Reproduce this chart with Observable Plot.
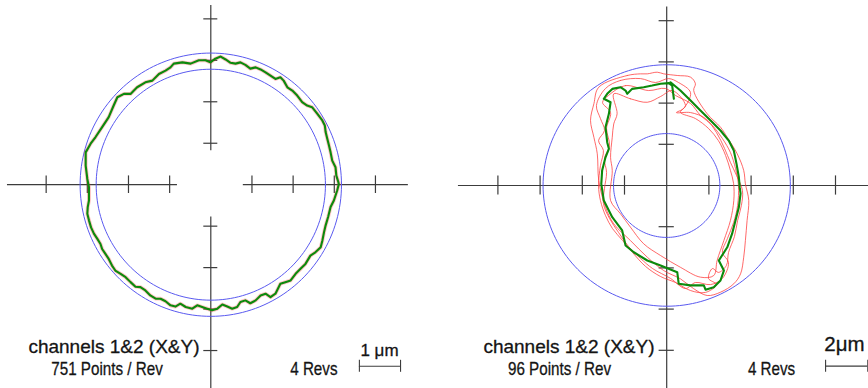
<!DOCTYPE html>
<html><head><meta charset="utf-8">
<script src="https://cdn.jsdelivr.net/npm/d3@7"></script>
<script src="https://cdn.jsdelivr.net/npm/@observablehq/plot@0.6"></script>
<style>
html,body{margin:0;padding:0;background:#fff;}
#wrap{display:flex;width:868px;height:388px;overflow:hidden;background:#fff;}
#wrap svg{display:block;flex:none;}
</style></head><body><div id="wrap"></div>
<script>
// ---------- data (µm) ----------
const leftTicks = [-4, -3, -2, -1, 1, 2, 3, 4];
const rightTicks = [-8, -6, -4, -2, 2, 4, 6, 8];
const leftCircleRadii = [3.175, 2.785];
const rightCircleRadii = [5.86, 2.52];

// channels 1&2, 751 points / rev (traced outline)
const leftTrace = [[-0.13,3.00],[-0.01,2.95],[0.11,3.04],[0.24,3.09],[0.36,3.02],[0.48,2.94],[0.60,2.92],[0.72,2.95],[0.84,2.89],[0.96,2.80],[1.09,2.83],[1.21,2.78],[1.33,2.71],[1.45,2.63],[1.57,2.55],[1.69,2.59],[1.77,2.51],[1.86,2.35],[1.98,2.27],[2.10,2.15],[2.22,1.99],[2.34,1.91],[2.46,1.87],[2.59,1.71],[2.71,1.55],[2.77,1.43],[2.79,1.27],[2.83,1.11],[2.87,0.95],[2.91,0.78],[2.95,0.58],[3.03,0.42],[3.05,0.22],[3.10,0.06],[3.11,0.01],[3.07,-0.14],[2.99,-0.38],[2.91,-0.54],[2.85,-0.78],[2.79,-0.98],[2.75,-1.15],[2.71,-1.35],[2.67,-1.51],[2.54,-1.63],[2.42,-1.71],[2.30,-1.91],[2.18,-2.03],[2.06,-2.15],[1.94,-2.31],[1.81,-2.35],[1.69,-2.39],[1.57,-2.63],[1.45,-2.71],[1.33,-2.63],[1.21,-2.67],[1.09,-2.79],[0.96,-2.86],[0.84,-2.79],[0.72,-2.83],[0.64,-2.95],[0.52,-2.99],[0.40,-2.94],[0.28,-2.89],[0.16,-2.99],[0.03,-3.03],[-0.09,-2.99],[-0.21,-2.95],[-0.33,-2.91],[-0.45,-2.99],[-0.61,-2.95],[-0.74,-2.87],[-0.86,-2.94],[-0.98,-2.91],[-1.10,-2.81],[-1.22,-2.75],[-1.34,-2.75],[-1.47,-2.67],[-1.59,-2.55],[-1.71,-2.47],[-1.83,-2.46],[-1.95,-2.35],[-2.07,-2.23],[-2.19,-2.15],[-2.32,-2.07],[-2.40,-1.95],[-2.48,-1.79],[-2.56,-1.67],[-2.64,-1.55],[-2.68,-1.43],[-2.76,-1.30],[-2.84,-1.18],[-2.91,-1.03],[-2.96,-0.86],[-3.00,-0.70],[-2.99,-0.54],[-2.96,-0.38],[-2.96,-0.22],[-2.96,-0.06],[-3.00,0.14],[-3.04,0.46],[-3.04,0.78],[-2.92,0.99],[-2.80,1.15],[-2.64,1.39],[-2.48,1.63],[-2.36,1.91],[-2.27,2.11],[-2.11,2.19],[-1.95,2.19],[-1.79,2.35],[-1.59,2.47],[-1.42,2.51],[-1.26,2.67],[-1.10,2.75],[-0.98,2.83],[-0.90,2.92],[-0.69,2.95],[-0.49,2.92],[-0.29,3.00]];

// channels 1&2, 96 points / rev: green trace (one rev)
const rightTrace = [[0.34,4.21],[0.26,4.85],[0.10,4.97],[-0.29,4.94],[-0.69,4.85],[-1.09,4.77],[-1.64,4.69],[-1.87,4.45],[-1.95,4.61],[-2.19,4.77],[-2.58,4.69],[-2.82,4.45],[-2.98,4.21],[-2.66,4.04],[-2.74,3.48],[-2.90,2.83],[-2.82,2.10],[-2.74,1.78],[-2.90,1.37],[-3.06,0.73],[-3.10,0.08],[-2.98,-0.73],[-2.58,-1.54],[-2.11,-2.18],[-1.95,-2.91],[-1.56,-3.24],[-0.92,-3.64],[-0.29,-3.88],[0.50,-4.21],[0.57,-4.77],[1.13,-4.85],[1.76,-4.85],[1.84,-5.06],[2.23,-4.94],[2.55,-4.61],[2.71,-4.13],[2.47,-3.64],[2.87,-3.00],[3.10,-2.34],[3.26,-1.70],[3.42,-1.05],[3.50,-0.40],[3.46,-0.08],[3.42,0.40],[3.31,1.05],[3.18,1.70],[2.94,2.18],[2.55,2.67],[2.08,3.16],[1.60,3.64],[1.13,4.13],[0.65,4.61],[0.18,5.01]];

// red traces, 4 revs
const rightRev1 = [[-3.22,4.77],[-1.87,5.34],[-1.24,5.42],[-0.92,5.42],[-0.45,5.50],[-0.14,5.42],[0.50,5.34],[1.13,5.26],[1.36,4.94],[1.28,4.61],[1.92,3.48],[2.55,2.83],[2.87,2.34],[3.34,1.54],[3.65,0.73],[3.73,0.08],[3.89,-0.73],[3.81,-1.70],[3.73,-2.67],[3.65,-3.48],[3.50,-4.29],[3.18,-4.77],[2.55,-5.18],[1.92,-5.34],[1.28,-5.01],[0.65,-4.53],[-0.14,-4.13],[-0.92,-3.48],[-1.72,-2.67],[-2.51,-1.86],[-2.90,-1.05],[-3.22,0.24],[-3.29,1.54],[-3.45,2.34],[-3.61,3.16],[-3.45,3.97]];
const rightRev2 = [[-2.51,4.45],[-1.72,4.21],[-0.92,4.04],[-0.29,4.32],[0.27,4.61],[0.89,3.88],[0.65,3.56],[1.36,3.25],[1.98,2.77],[2.45,2.18],[2.79,1.46],[3.02,0.73],[3.17,0.10],[3.18,-0.73],[3.02,-1.70],[2.71,-2.67],[2.39,-3.64],[2.23,-4.37],[1.60,-4.45],[0.65,-3.97],[-0.29,-3.40],[-1.09,-2.83],[-1.72,-2.02],[-2.19,-1.37],[-2.66,-0.73],[-2.58,0.73],[-2.66,1.37],[-2.58,2.34],[-2.51,2.99],[-2.35,3.48]];
const rightRev3 = [[-2.90,4.71],[-2.19,5.10],[-1.24,5.19],[-0.53,5.00],[0.09,5.19],[0.56,5.00],[1.13,4.51],[0.80,3.74],[0.46,3.54],[1.13,3.54],[1.84,3.25],[2.36,2.57],[2.74,1.80],[3.02,1.12],[3.31,0.49],[3.59,-0.24],[3.54,-0.97],[3.36,-1.70],[3.21,-2.48],[2.93,-3.25],[2.83,-3.88],[2.45,-4.22],[2.17,-4.03],[1.98,-4.51],[2.36,-4.81],[1.84,-5.19],[1.13,-5.10],[0.42,-4.71],[-0.29,-4.42],[-1.00,-3.93],[-1.62,-3.25],[-2.09,-2.67],[-2.57,-2.09],[-2.90,-1.46],[-3.14,-0.73],[-3.23,0.00],[-3.14,0.97],[-3.00,1.70],[-3.23,2.18],[-2.95,2.67],[-3.14,3.25],[-3.33,3.88]];
const rightRev4 = [[-2.76,4.37],[-1.95,4.85],[-0.86,4.61],[-0.06,4.71],[0.42,4.37],[1.13,3.98],[1.60,3.40],[2.17,2.91],[2.64,2.28],[3.02,1.60],[3.26,0.83],[3.40,0.00],[3.36,-0.97],[3.17,-1.80],[2.88,-2.57],[2.64,-3.25],[2.93,-3.74],[2.64,-4.51],[2.08,-4.81],[1.36,-4.71],[0.89,-5.00],[0.18,-4.51],[-0.67,-4.03],[-1.24,-3.54],[-1.81,-2.96],[-2.28,-2.28],[-2.71,-1.60],[-3.00,-0.87],[-2.95,-0.15],[-2.85,0.63],[-2.95,1.31],[-2.71,1.94],[-2.85,2.77],[-2.66,3.54],[-3.04,4.03]];

const leftLabels = {title: "channels 1&2 (X&Y)", points: "751 Points / Rev", revs: "4 Revs", bar: "1 μm"};
const rightLabels = {title: "channels 1&2 (X&Y)", points: "96 Points / Rev", revs: "4 Revs", bar: "2μm"};
const leftBarLength = 1;
const rightBarLength = 2;

// ---------- layout (pixels / styles) ----------
const FONT = "Liberation Sans, Arial, Helvetica, sans-serif";
const leftLayout = {
  cx: 210.3, cy: 184.2, kx: 41.16, ky: 41.46, ticks: leftTicks, tmax: 4,
  hSegs: [[-4.94, -0.81], [0.79, 4.80]], vSegs: [[4.32, 0.82], [-0.78, -5.0]],
  hTickPx: 8.8, vTickPx: 7, bar: {x: 3.61, y: -4.38, len: leftBarLength}, barTickPx: 6,
  title: {x: 199, y: 352}, points: {x: 106.5, y: 374.5}, revs: {x: 337, y: 374.5},
  barLabel: {x: 379, y: 355, size: 17}
};
const rightLayout = {
  cx: 232.2, cy: 185, kx: 21.1, ky: 20.6, ticks: rightTicks, tmax: 8,
  hSegs: [[-9.87, 9.9]], vSegs: [[8.66, -9.9]],
  hTickPx: 9.6, vTickPx: 7.6, bar: {x: 7.53, y: -8.77, len: rightBarLength}, barTickPx: 6,
  title: {x: 220, y: 352}, points: {x: 125, y: 374.5}, revs: {x: 360.7, y: 374.5},
  barLabel: {x: 410, y: 350, size: 20.5}
};

function circleOutline(r) {
  return d3.range(0, 361, 2).map(a => [r * Math.cos(a * Math.PI / 180), r * Math.sin(a * Math.PI / 180)]);
}

function label(text, pos, opts) {
  return Plot.text([text], Object.assign({
    text: d => d, frameAnchor: "top-left", dx: pos.x, dy: pos.y, lineAnchor: "bottom",
    fontFamily: FONT, fill: "#141414", stroke: "#141414", strokeWidth: 0.3
  }, opts));
}

function panel(L, labels, circles, greenTrace, redTraces, closedGreen) {
  const AX = "#3c3c3c";
  const th = L.hTickPx / L.ky, tv = L.vTickPx / L.kx, tb = L.barTickPx / L.ky;
  const marks = [
    Plot.ruleY(L.hSegs, {y: 0, x1: d => d[0], x2: d => d[1], stroke: AX, strokeWidth: 1.2}),
    Plot.ruleX(L.vSegs, {x: 0, y1: d => d[0], y2: d => d[1], stroke: AX, strokeWidth: 1.2}),
    Plot.ruleX(L.ticks, {x: d => d, y1: -th, y2: th, stroke: AX, strokeWidth: 1.2}),
    Plot.ruleY(L.ticks, {y: d => d, x1: -tv, x2: tv, stroke: AX, strokeWidth: 1.2}),
    ...circles.map(r => Plot.line(circleOutline(r), {x: d => d[0], y: d => d[1], stroke: "#5a5af0", strokeWidth: 1, curve: "linear-closed"})),
  ];
  if (redTraces) {
    redTraces.forEach(t => marks.push(Plot.line(t, {x: d => d[0], y: d => d[1], stroke: "#ff3a3a", strokeWidth: 0.9, strokeOpacity: 0.85, curve: "catmull-rom-closed"})));
  } else {
    marks.push(Plot.line(greenTrace, {x: d => d[0], y: d => d[1], stroke: "#ff3a3a", strokeWidth: 3.8, strokeOpacity: 0.3, curve: "linear-closed"}));
  }
  marks.push(Plot.line(greenTrace, {x: d => d[0], y: d => d[1], stroke: "#0c8a0c", strokeWidth: 2.1, strokeLinejoin: "round", curve: closedGreen ? "linear-closed" : "linear"}));
  // scale bar
  marks.push(Plot.ruleY([L.bar], {y: d => d.y, x1: d => d.x, x2: d => d.x + d.len, stroke: AX, strokeWidth: 1.1}));
  marks.push(Plot.ruleX([L.bar.x, L.bar.x + L.bar.len], {x: d => d, y1: L.bar.y - tb, y2: L.bar.y + tb, stroke: AX, strokeWidth: 1.1}));
  // labels
  marks.push(label(labels.title, L.title, {textAnchor: "end", fontSize: 19}));
  marks.push(label(labels.points, L.points, {textAnchor: "middle", fontSize: 19}));
  marks.push(label(labels.revs, L.revs, {textAnchor: "end", fontSize: 19}));
  marks.push(label(labels.bar, L.barLabel, {textAnchor: "middle", fontSize: L.barLabel.size}));
  return Plot.plot({
    width: 434, height: 388, margin: 0,
    x: {domain: [-L.tmax, L.tmax], range: [L.cx - L.tmax * L.kx, L.cx + L.tmax * L.kx]},
    y: {domain: [-L.tmax, L.tmax], range: [L.cy + L.tmax * L.ky, L.cy - L.tmax * L.ky]},
    axis: null,
    style: {background: "white", overflow: "hidden"},
    marks
  });
}

const wrap = document.getElementById("wrap");
wrap.append(
  panel(leftLayout, leftLabels, leftCircleRadii, leftTrace, null, true),
  panel(rightLayout, rightLabels, rightCircleRadii, rightTrace, [rightRev1, rightRev2, rightRev3, rightRev4], false)
);
// the "Points / Rev" and "Revs" captions use a condensed face
const narrowTexts = [leftLabels.points, leftLabels.revs, rightLabels.points, rightLabels.revs];
d3.selectAll("#wrap text").filter(function () { return narrowTexts.includes(this.textContent); }).each(function () {
  const w = this.getComputedTextLength();
  this.setAttribute("textLength", (w * 0.8).toFixed(1));
  this.setAttribute("lengthAdjust", "spacingAndGlyphs");
});
</script></body></html>
